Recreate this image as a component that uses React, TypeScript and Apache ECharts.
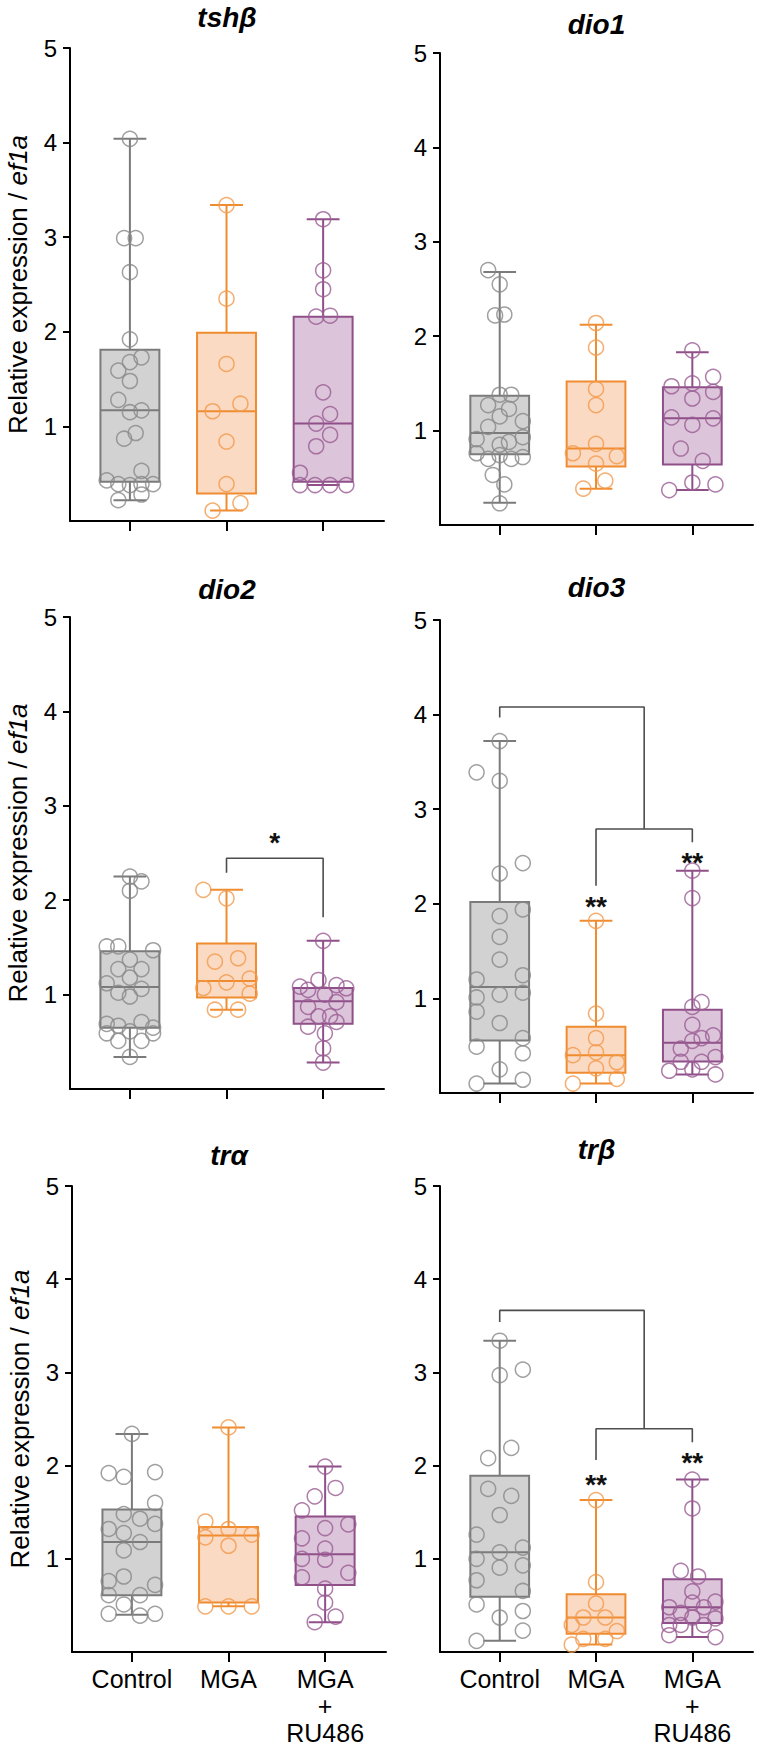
import React, { useEffect, useRef } from "react";
import * as echarts from "echarts";

// ---------- data ----------
const GROUPS = ["Control", "MGA", "MGA\n+\nRU486"];
const GENES = ["tshβ", "dio1", "dio2", "dio3", "trα", "trβ"];
const Y_TICKS = [1, 2, 3, 4, 5];
const X_TICKS = [1, 2, 3];

// box stats per group: [min, q1, median, q3, max] (Control, MGA, MGA+RU486)
const BOX_TSHB = [[0.22, 0.415, 1.17, 1.81, 4.04], [0.11, 0.29, 1.16, 1.99, 3.34], [0.38, 0.415, 1.03, 2.16, 3.19]];
const BOX_DIO1 = [[0.235, 0.75, 0.975, 1.37, 2.68], [0.385, 0.62, 0.81, 1.52, 2.12], [0.37, 0.64, 1.13, 1.46, 1.83]];
const BOX_DIO2 = [[0.34, 0.65, 1.08, 1.46, 2.25], [0.84, 0.97, 1.145, 1.54, 2.11], [0.28, 0.69, 0.93, 1.07, 1.57]];
const BOX_DIO3 = [[0.10, 0.556, 1.12, 2.02, 3.72], [0.10, 0.215, 0.40, 0.70, 1.82], [0.196, 0.333, 0.53, 0.88, 2.35]];
const BOX_TRA = [[0.40, 0.61, 1.18, 1.53, 2.34], [0.49, 0.53, 1.25, 1.34, 2.41], [0.32, 0.72, 1.05, 1.455, 1.99]];
const BOX_TRB = [[0.12, 0.594, 1.07, 1.89, 3.34], [0.08, 0.197, 0.37, 0.62, 1.63], [0.16, 0.31, 0.48, 0.78, 1.85]];

// individual points: [value, lane]
const TSHB_CTRL = [[4.04, 0], [2.99, -0.5], [2.99, 0.5], [2.63, 0], [1.92, 0], [1.73, 1], [1.68, 0], [1.59, -1], [1.48, 0], [1.28, -1], [1.15, 0], [1.17, 1], [0.87, -0.5], [0.93, 0.5], [0.53, 1], [0.43, -2], [0.39, -1], [0.38, 0], [0.39, 1], [0.39, 2], [0.28, 1], [0.22, -1]];
const TSHB_MGA = [[3.34, 0], [2.35, 0], [1.66, 0], [1.24, 1.2], [1.16, -1.2], [0.84, 0], [0.39, 0], [0.19, 1.2], [0.11, -1.2]];
const TSHB_RU = [[3.19, 0], [2.65, 0], [2.45, 0], [2.16, -0.6], [2.17, 0.6], [1.36, 0], [1.13, 0.6], [1.03, -0.6], [0.91, 0.6], [0.79, -0.6], [0.51, -2], [0.38, -2], [0.38, -0.7], [0.38, 0.6], [0.38, 2]];

const DIO1_CTRL = [[2.70, -1], [2.55, 0], [2.22, -0.4], [2.23, 0.4], [1.38, 0], [1.38, 1], [1.27, -1], [1.23, 0.8], [1.15, 0], [1.10, 2], [1.04, -1], [0.88, 0.8], [0.93, 2], [0.91, -2], [0.85, 0], [0.76, -2], [0.70, -1], [0.74, 0], [0.70, 1], [0.72, 2], [0.53, -0.6], [0.43, 0.4], [0.23, 0]];
const DIO1_MGA = [[2.14, 0], [1.88, 0], [1.44, 0], [1.27, 0], [0.86, 0], [0.76, -2], [0.73, 1.8], [0.65, 0], [0.47, 0.8], [0.385, -1.1]];
const DIO1_RU = [[1.85, 0], [1.57, 1.8], [1.47, -1.8], [1.50, 0], [1.41, 1.8], [1.34, 0], [1.14, -1.8], [1.13, 1.8], [1.06, 0], [0.81, -1], [0.68, 0.9], [0.45, 0], [0.43, 2], [0.37, -2]];

const DIO2_CTRL = [[2.25, 0], [2.20, 1], [2.10, 0], [1.51, -2], [1.51, -1], [1.47, 2], [1.37, 0], [1.27, -1], [1.27, 1], [1.18, 0], [1.12, -2], [1.06, 1], [1.02, -1], [0.98, 0], [0.69, -2], [0.71, 1], [0.67, -1], [0.65, 2], [0.61, 0], [0.59, -2], [0.51, -1], [0.51, 1], [0.59, 2], [0.34, 0]];
const DIO2_MGA = [[2.11, -2], [2.02, 0], [1.35, -1], [1.385, 1], [1.13, 0], [1.17, 2], [1.07, -2], [1.01, 2], [0.84, -1], [0.84, 1]];
const DIO2_RU = [[1.57, 0], [1.155, -0.4], [1.085, -2], [1.10, 1.15], [1.067, 2], [1.05, -1.3], [1.0, 0.15], [0.92, 1.15], [0.87, -1.3], [0.77, -0.4], [0.77, 0.6], [0.71, 1.15], [0.66, -1.3], [0.59, 0.15], [0.43, 0], [0.28, 0]];

const DIO3_CTRL = [[3.72, 0], [3.39, -2], [3.30, 0], [2.43, 2], [2.32, 0], [1.94, 2], [1.87, 0], [1.65, 0], [1.41, 0], [1.20, -2], [1.245, 2], [1.01, -2], [1.04, 0], [1.06, 2], [0.86, -2], [0.74, 0], [0.58, 2], [0.49, -2], [0.42, 2], [0.25, 0], [0.10, -2], [0.14, 2]];
const DIO3_MGA = [[1.82, 0], [0.84, 0], [0.58, 0], [0.40, -2], [0.43, 0], [0.325, 1.8], [0.26, 0], [0.10, -2], [0.15, 1.8]];
const DIO3_RU = [[2.35, 0], [2.06, 0], [0.96, 0.8], [0.91, 0], [0.72, 0], [0.61, 1.8], [0.58, 0.8], [0.55, 0], [0.47, -1], [0.38, 2], [0.33, -1], [0.33, 0.8], [0.25, 0], [0.235, -2], [0.196, 2]];

const TRA_CTRL = [[2.34, 0], [1.92, -2], [1.88, -0.7], [1.93, 2], [1.60, 2], [1.48, -0.7], [1.43, 0.7], [1.375, 2], [1.32, -2], [1.275, -0.7], [1.18, 0.7], [1.09, -0.7], [0.81, -0.7], [0.76, -2], [0.72, 2], [0.61, -2], [0.61, 0.7], [0.51, -0.7], [0.41, -2], [0.39, 0.7], [0.41, 2]];
const TRA_MGA = [[2.41, 0], [1.40, -2], [1.32, 0], [1.26, 2], [1.23, -2], [1.14, 0], [0.49, -2], [0.49, 0], [0.49, 2]];
const TRA_RU = [[1.99, 0], [1.76, 0.9], [1.67, -0.9], [1.52, -2], [1.33, 0], [1.37, 2], [1.22, -2], [1.11, 0], [1.0, -2], [0.99, 0], [0.85, 2], [0.80, -2], [0.68, 0], [0.53, 0], [0.38, 0.9], [0.32, -0.9]];

const TRB_CTRL = [[3.34, 0], [3.03, 2], [2.97, 0], [2.19, 1], [2.08, -1], [1.75, -1], [1.675, 1], [1.47, 0], [1.26, -2], [1.12, 2], [1.07, 0], [1.0, -2], [0.93, 2], [0.905, 0], [0.77, -2], [0.655, 2], [0.51, -2], [0.44, 2], [0.37, 0], [0.23, 2], [0.12, -2]];
const TRB_MGA = [[1.63, 0], [0.75, 0], [0.52, 0], [0.37, -1.1], [0.37, 0.8], [0.29, -2.1], [0.225, 1.8], [0.14, -1.1], [0.14, 0.8], [0.08, -2.1]];
const TRB_RU = [[1.85, 0], [1.54, 0], [0.87, -1], [0.81, 0.5], [0.65, 0], [0.54, 2], [0.53, 0], [0.48, -2], [0.48, 1], [0.42, -1], [0.37, 0], [0.36, 2], [0.29, -2], [0.29, -1], [0.29, 1], [0.18, -2], [0.16, 2]];

// significance brackets (polylines in data units) and star labels [x, y, count]
const BRACKETS_DIO2 = [[[2, 2.29], [2, 2.445], [3, 2.445], [3, 1.82]]];
const STARS_DIO2 = [[2.5, 2.68, 1]];
const BRACKETS_DIO3 = [[[1, 3.97], [1, 4.08], [2.5, 4.08], [2.5, 2.79]], [[2, 2.19], [2, 2.79], [3, 2.79], [3, 2.65]]];
const STARS_DIO3 = [[2, 2.04, 2], [3, 2.5, 2]];
const BRACKETS_TRB = [[[1, 3.54], [1, 3.665], [2.5, 3.665], [2.5, 2.395]], [[2, 2.06], [2, 2.395], [3, 2.395], [3, 2.25]]];
const STARS_TRB = [[2, 1.86, 2], [3, 2.10, 2]];

const PANELS = [
  { box: BOX_TSHB, pts: [TSHB_CTRL, TSHB_MGA, TSHB_RU], brackets: [], stars: [] },
  { box: BOX_DIO1, pts: [DIO1_CTRL, DIO1_MGA, DIO1_RU], brackets: [], stars: [] },
  { box: BOX_DIO2, pts: [DIO2_CTRL, DIO2_MGA, DIO2_RU], brackets: BRACKETS_DIO2, stars: STARS_DIO2 },
  { box: BOX_DIO3, pts: [DIO3_CTRL, DIO3_MGA, DIO3_RU], brackets: BRACKETS_DIO3, stars: STARS_DIO3 },
  { box: BOX_TRA, pts: [TRA_CTRL, TRA_MGA, TRA_RU], brackets: [], stars: [] },
  { box: BOX_TRB, pts: [TRB_CTRL, TRB_MGA, TRB_RU], brackets: BRACKETS_TRB, stars: STARS_TRB },
];

// ---------- layout & style ----------
const LAYOUT = [
  { left: 70, top: 48, width: 314, height: 473, titleY: 17 },
  { left: 440, top: 53, width: 313, height: 472, titleY: 24 },
  { left: 70, top: 617, width: 314, height: 472, titleY: 589 },
  { left: 440, top: 620, width: 313, height: 473, titleY: 587 },
  { left: 72, top: 1186, width: 314, height: 472, titleY: 1155 },
  { left: 440, top: 1186, width: 313, height: 472, titleY: 1149 },
];
const FONT = "'Liberation Sans', Arial, Helvetica, sans-serif";
const STROKE = ["#7b7b7b", "#f08c30", "#8f4f89"];
const FILL = ["#d2d2d2", "#fbdac3", "#dcc4da"];
const DOT = ["#888888", "#f29a4c", "#9a5c94"];
const BOX_HALF = 0.305;
const CAP_HALF = 0.17;
const LANE = 0.12;
const X_MIN = 0.38;
const X_MAX = 3.63;

function buildOption() {
  const grid = LAYOUT.map((l) => ({ left: l.left, top: l.top, width: l.width, height: l.height }));
  const axisLineStyle = { color: "#000", width: 2 };
  const xAxis = LAYOUT.map((_, i) => ({
    type: "value",
    gridIndex: i,
    min: X_MIN,
    max: X_MAX,
    axisLine: { show: true, onZero: false, lineStyle: axisLineStyle },
    axisTick: { show: true, customValues: X_TICKS, length: 10, lineStyle: axisLineStyle },
    axisLabel: {
      show: i >= 4,
      customValues: X_TICKS,
      formatter: (v: number) => GROUPS[Math.round(v) - 1] ?? "",
      fontSize: 25,
      lineHeight: 27,
      color: "#000",
      fontFamily: FONT,
      margin: 13,
    },
    splitLine: { show: false },
  }));
  const yAxis = LAYOUT.map((_, i) => ({
    type: "value",
    gridIndex: i,
    min: 0,
    max: 5,
    interval: 1,
    axisLine: { show: true, onZero: false, lineStyle: axisLineStyle },
    axisTick: { show: true, customValues: Y_TICKS, length: 7, lineStyle: axisLineStyle },
    axisLabel: { customValues: Y_TICKS, fontSize: 24, color: "#000", margin: 13, fontFamily: FONT },
    splitLine: { show: false },
    name: i % 2 === 0 ? "Relative expression / {i|ef1a}" : "",
    nameLocation: "middle",
    nameGap: 39,
    nameTextStyle: {
      fontSize: 26,
      fontFamily: FONT,
      color: "#000",
      rich: { i: { fontStyle: "italic", fontSize: 26, fontFamily: FONT, color: "#000" } },
    },
  }));

  const series: any[] = [];
  PANELS.forEach((p, i) => {
    series.push({
      type: "custom",
      xAxisIndex: i,
      yAxisIndex: i,
      silent: true,
      z: 2,
      data: p.box.map((b, g) => [g + 1, ...b]),
      encode: { x: 0, y: [1, 2, 3, 4, 5] },
      renderItem: (params: any, api: any) => {
        const g = params.dataIndex;
        const x = api.value(0);
        const mn = api.value(1), q1 = api.value(2), md = api.value(3), q3 = api.value(4), mx = api.value(5);
        const c = api.coord([x, md])[0];
        const bl = api.coord([x - BOX_HALF, q3]);
        const br = api.coord([x + BOX_HALF, q1]);
        const cl = api.coord([x - CAP_HALF, mx])[0];
        const cr = api.coord([x + CAP_HALF, mx])[0];
        const yMx = api.coord([x, mx])[1];
        const yMn = api.coord([x, mn])[1];
        const yMd = api.coord([x, md])[1];
        const st = { stroke: STROKE[g], lineWidth: 2, fill: null };
        return {
          type: "group",
          children: [
            { type: "line", shape: { x1: c, y1: yMx, x2: c, y2: bl[1] }, style: st },
            { type: "line", shape: { x1: c, y1: br[1], x2: c, y2: yMn }, style: st },
            { type: "line", shape: { x1: cl, y1: yMx, x2: cr, y2: yMx }, style: st },
            { type: "line", shape: { x1: cl, y1: yMn, x2: cr, y2: yMn }, style: st },
            {
              type: "rect",
              shape: { x: bl[0], y: bl[1], width: br[0] - bl[0], height: br[1] - bl[1] },
              style: { fill: FILL[g], stroke: STROKE[g], lineWidth: 2 },
            },
            { type: "line", shape: { x1: bl[0], y1: yMd, x2: br[0], y2: yMd }, style: st },
          ],
        };
      },
    });
    p.pts.forEach((pts, g) => {
      series.push({
        type: "scatter",
        xAxisIndex: i,
        yAxisIndex: i,
        silent: true,
        z: 3,
        symbol: "circle",
        symbolSize: 15,
        itemStyle: { color: "rgba(255,255,255,0)", borderColor: DOT[g], borderWidth: 1.5 },
        data: pts.map(([v, lane]) => [g + 1 + lane * LANE, v]),
      });
    });
    p.brackets.forEach((br: number[][]) => {
      series.push({
        type: "line",
        xAxisIndex: i,
        yAxisIndex: i,
        silent: true,
        z: 4,
        showSymbol: false,
        symbol: "none",
        lineStyle: { color: "#4d4d4d", width: 1.6 },
        data: br,
      });
    });
    if (p.stars.length) {
      series.push({
        type: "custom",
        xAxisIndex: i,
        yAxisIndex: i,
        silent: true,
        z: 5,
        data: p.stars,
        encode: { x: 0, y: 1 },
        renderItem: (params: any, api: any) => {
          const pt = api.coord([api.value(0), api.value(1)]);
          return {
            type: "text",
            x: pt[0],
            y: pt[1] + 6,
            style: {
              text: "*".repeat(api.value(2)),
              align: "center",
              verticalAlign: "middle",
              fontSize: 28,
              fontWeight: "bold",
              fontFamily: FONT,
              fill: "#111",
            },
          };
        },
      });
    }
  });

  const graphic = LAYOUT.map((l, i) => ({
    type: "text",
    x: l.left + l.width / 2,
    y: l.titleY,
    silent: true,
    style: {
      text: GENES[i],
      align: "center",
      verticalAlign: "middle",
      fontSize: 28,
      fontWeight: "bold",
      fontStyle: "italic",
      fontFamily: FONT,
      fill: "#000",
    },
  }));

  return {
    animation: false,
    backgroundColor: "#ffffff",
    grid,
    xAxis,
    yAxis,
    series,
    graphic,
  };
}

export default function App() {
  const ref = useRef<HTMLDivElement>(null);
  useEffect(() => {
    document.body.style.margin = "0";
    const chart = echarts.init(ref.current!, undefined, { renderer: "svg" });
    chart.setOption(buildOption() as any);
    return () => chart.dispose();
  }, []);
  return <div ref={ref} style={{ width: 760, height: 1746 }} />;
}
